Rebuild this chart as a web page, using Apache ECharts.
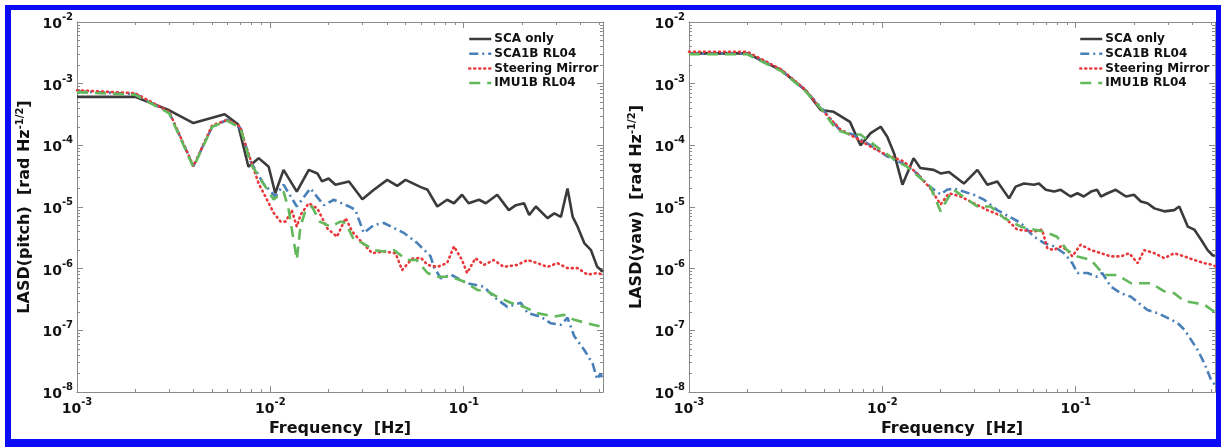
<!DOCTYPE html>
<html><head><meta charset="utf-8">
<script src="https://cdn.jsdelivr.net/npm/echarts@6/dist/echarts.min.js"></script>
<style>
html,body{margin:0;padding:0;background:#fff;}
#c{width:1221px;height:447px;}
#frame{position:absolute;left:5px;top:5px;right:0;bottom:0;border-style:solid;border-color:#0b0bf5;border-width:5px 5px 8px 6px;pointer-events:none;}
</style>
</head><body><div id="c"></div><div id="frame"></div>
<script>
// ---------- tick labels / axes ----------
const xMajorTicks = [0.001, 0.01, 0.1];
const yMajorTicks = [1e-8, 1e-7, 1e-6, 1e-5, 1e-4, 1e-3, 1e-2];
const minorMultipliers = [2, 3, 4, 5, 6, 7, 8, 9];
const xRange = [0.001, 0.525];
const yRange = [1e-8, 1e-2];
const seriesNames = ['SCA only', 'SCA1B RL04', 'Steering Mirror', 'IMU1B RL04'];
const xTitle = 'Frequency  [Hz]';
const yTitlePitch = 'LASD(pitch)';
const yTitleYaw = 'LASD(yaw)';

// ---------- pitch panel data [frequency Hz, LASD rad/sqrt(Hz)] ----------
const pitchScaOnly = [[0.001,6.1e-4],[0.002,6.1e-4],[0.003,3.7e-4],[0.004,2.3e-4],[0.005,2.8e-4],[0.0058,3.2e-4],[0.0068,2.2e-4],[0.0077,4.5e-5],[0.0087,6.2e-5],[0.0098,4.5e-5],[0.0106,1.67e-5],[0.0117,4.0e-5],[0.0137,1.78e-5],[0.0158,4.0e-5],[0.0175,3.5e-5],[0.0185,2.6e-5],[0.020,2.9e-5],[0.0217,2.3e-5],[0.0255,2.6e-5],[0.0299,1.34e-5],[0.0343,1.9e-5],[0.0402,2.75e-5],[0.0453,2.2e-5],[0.050,2.75e-5],[0.060,2.1e-5],[0.065,1.9e-5],[0.073,1.02e-5],[0.082,1.31e-5],[0.089,1.15e-5],[0.098,1.58e-5],[0.106,1.15e-5],[0.12,1.31e-5],[0.13,1.15e-5],[0.149,1.58e-5],[0.171,8.9e-6],[0.186,1.07e-5],[0.205,1.15e-5],[0.218,7.4e-6],[0.236,1.02e-5],[0.271,6.6e-6],[0.294,7.9e-6],[0.318,6.9e-6],[0.344,2.0e-5],[0.366,6.9e-6],[0.388,4.8e-6],[0.42,2.6e-6],[0.455,2.0e-6],[0.49,1.07e-6],[0.525,8.9e-7]];
const pitchSca1b = [[0.001,7.5e-4],[0.002,6.8e-4],[0.003,3.4e-4],[0.004,4.6e-5],[0.005,2.0e-4],[0.006,2.6e-4],[0.007,1.9e-4],[0.0079,5.5e-5],[0.0092,2.4e-5],[0.0106,1.48e-5],[0.0117,2.3e-5],[0.0137,1.02e-5],[0.0161,2.0e-5],[0.0189,1.07e-5],[0.0213,1.31e-5],[0.0255,1.02e-5],[0.0275,9e-6],[0.0304,3.8e-6],[0.0343,5.1e-6],[0.0386,5.5e-6],[0.049,3.8e-6],[0.0575,2.6e-6],[0.0674,1.58e-6],[0.070,1.07e-6],[0.076,7.0e-7],[0.0857,8e-7],[0.104,5.8e-7],[0.127,5.1e-7],[0.143,3.5e-7],[0.168,2.4e-7],[0.197,2.8e-7],[0.214,1.9e-7],[0.25,1.67e-7],[0.282,1.3e-7],[0.318,1.23e-7],[0.344,1.6e-7],[0.373,8e-8],[0.42,4.8e-8],[0.464,2.9e-8],[0.49,1.6e-8],[0.51,2e-8],[0.525,1.5e-8]];
const pitchMirror = [[0.001,7.8e-4],[0.002,7.0e-4],[0.003,3.5e-4],[0.004,4.6e-5],[0.005,2.1e-4],[0.006,2.6e-4],[0.007,2.0e-4],[0.0074,1.07e-4],[0.0087,2.4e-5],[0.0096,1.32e-5],[0.0104,8e-6],[0.0113,5.8e-6],[0.012,5.8e-6],[0.0129,8.9e-6],[0.0137,4.8e-6],[0.0143,7.4e-6],[0.0158,1.15e-5],[0.0175,9.5e-6],[0.0197,4.5e-6],[0.0221,3.3e-6],[0.0245,6.6e-6],[0.0265,4.0e-6],[0.030,2.6e-6],[0.0336,1.78e-6],[0.0386,1.9e-6],[0.0444,1.78e-6],[0.048,9.5e-7],[0.054,1.45e-6],[0.060,1.5e-6],[0.065,1.15e-6],[0.073,1.07e-6],[0.082,1.23e-6],[0.089,2.3e-6],[0.098,1.38e-6],[0.104,8.5e-7],[0.115,1.48e-6],[0.127,1.15e-6],[0.143,1.38e-6],[0.161,1.07e-6],[0.189,1.15e-6],[0.214,1.38e-6],[0.24,1.23e-6],[0.271,1.07e-6],[0.305,1.23e-6],[0.344,1.02e-6],[0.388,1.02e-6],[0.437,8e-7],[0.49,8.5e-7],[0.525,8e-7]];
const pitchImu1b = [[0.001,7.3e-4],[0.002,6.6e-4],[0.003,3.3e-4],[0.004,4.4e-5],[0.005,2.0e-4],[0.006,2.5e-4],[0.007,1.9e-4],[0.0079,5.1e-5],[0.0092,2.4e-5],[0.0104,1.32e-5],[0.0117,1.78e-5],[0.0124,9.5e-6],[0.0137,1.4e-6],[0.0143,4.8e-6],[0.0152,8.9e-6],[0.0164,1.02e-5],[0.018,5.8e-6],[0.0205,4.8e-6],[0.023,5.8e-6],[0.0245,5.5e-6],[0.027,2.95e-6],[0.030,2.6e-6],[0.0343,2.0e-6],[0.0386,1.9e-6],[0.0435,2.0e-6],[0.051,1.38e-6],[0.057,1.38e-6],[0.065,8.5e-7],[0.073,7.4e-7],[0.0857,7.4e-7],[0.1,6.2e-7],[0.118,4.5e-7],[0.133,4.3e-7],[0.149,3.5e-7],[0.175,2.8e-7],[0.205,2.4e-7],[0.24,1.9e-7],[0.294,1.67e-7],[0.33,1.78e-7],[0.373,1.48e-7],[0.437,1.3e-7],[0.51,1.15e-7],[0.525,1.05e-7]];

// ---------- yaw panel data ----------
const yawScaOnly = [[0.001,3.1e-3],[0.002,3.1e-3],[0.003,1.65e-3],[0.004,7.8e-4],[0.0048,3.75e-4],[0.0056,3.5e-4],[0.0068,2.4e-4],[0.0077,1.0e-4],[0.0087,1.58e-4],[0.0098,2.0e-4],[0.0106,1.38e-4],[0.0115,7.4e-5],[0.0127,2.3e-5],[0.0145,6.2e-5],[0.0157,4.3e-5],[0.0184,4.0e-5],[0.020,3.5e-5],[0.0221,3.7e-5],[0.0264,2.4e-5],[0.031,4.0e-5],[0.0349,2.3e-5],[0.0393,2.6e-5],[0.0452,1.38e-5],[0.0489,2.14e-5],[0.054,2.4e-5],[0.0608,2.3e-5],[0.0645,2.4e-5],[0.07,1.9e-5],[0.0773,1.78e-5],[0.0836,1.9e-5],[0.094,1.48e-5],[0.102,1.67e-5],[0.110,1.48e-5],[0.12,1.78e-5],[0.129,1.9e-5],[0.135,1.48e-5],[0.146,1.67e-5],[0.161,1.9e-5],[0.182,1.48e-5],[0.2,1.58e-5],[0.217,1.23e-5],[0.235,1.15e-5],[0.255,9.5e-6],[0.287,8.5e-6],[0.323,8.9e-6],[0.343,1.02e-5],[0.38,4.8e-6],[0.41,4.3e-6],[0.445,2.95e-6],[0.481,2.0e-6],[0.51,1.65e-6],[0.525,1.6e-6]];
const yawSca1b = [[0.001,3.1e-3],[0.002,3.1e-3],[0.003,1.65e-3],[0.004,7.8e-4],[0.005,3.6e-4],[0.006,1.8e-4],[0.007,1.5e-4],[0.0087,1.0e-4],[0.0106,6.6e-5],[0.0129,5.0e-5],[0.0151,3.5e-5],[0.0177,2.1e-5],[0.02,1.6e-5],[0.0216,1.9e-5],[0.0234,2.0e-5],[0.0297,1.58e-5],[0.0335,1.32e-5],[0.0393,8.9e-6],[0.052,5.5e-6],[0.0608,3.3e-6],[0.0686,2.6e-6],[0.077,2.3e-6],[0.087,1.78e-6],[0.096,1.23e-6],[0.102,8.5e-7],[0.115,8.5e-7],[0.129,7.4e-7],[0.137,8.5e-7],[0.152,5.1e-7],[0.171,4.0e-7],[0.193,3.5e-7],[0.217,2.6e-7],[0.235,2.14e-7],[0.265,1.9e-7],[0.3,1.58e-7],[0.337,1.3e-7],[0.365,1.02e-7],[0.395,7e-8],[0.427,4.8e-8],[0.463,2.9e-8],[0.5,1.6e-8],[0.525,1.3e-8]];
const yawMirror = [[0.001,3.3e-3],[0.002,3.3e-3],[0.003,1.7e-3],[0.004,8.0e-4],[0.0048,3.9e-4],[0.0061,1.78e-4],[0.0071,1.38e-4],[0.0087,9.5e-5],[0.0106,6.9e-5],[0.0129,5.5e-5],[0.0151,3.5e-5],[0.0177,2.0e-5],[0.02,1.1e-5],[0.0221,1.67e-5],[0.0254,1.48e-5],[0.0297,1.15e-5],[0.0349,8.9e-6],[0.0426,6.9e-6],[0.0498,4.3e-6],[0.0608,4.0e-6],[0.067,4.3e-6],[0.0713,2.14e-6],[0.077,2.0e-6],[0.0836,2.3e-6],[0.0906,2.0e-6],[0.096,1.58e-6],[0.106,2.45e-6],[0.12,2.0e-6],[0.135,1.78e-6],[0.152,1.58e-6],[0.171,1.58e-6],[0.189,1.78e-6],[0.209,1.23e-6],[0.226,2.0e-6],[0.255,1.78e-6],[0.287,1.48e-6],[0.323,1.78e-6],[0.365,1.58e-6],[0.41,1.38e-6],[0.463,1.23e-6],[0.51,1.15e-6],[0.525,1.1e-6]];
const yawImu1b = [[0.001,3.0e-3],[0.002,3.0e-3],[0.003,1.6e-3],[0.004,7.6e-4],[0.0048,4.0e-4],[0.0058,1.78e-4],[0.0068,1.5e-4],[0.0077,1.5e-4],[0.0098,8.5e-5],[0.0119,5.5e-5],[0.0134,4.5e-5],[0.0157,2.95e-5],[0.0177,2.14e-5],[0.02,8.5e-6],[0.0216,1.32e-5],[0.0234,1.9e-5],[0.0275,1.32e-5],[0.031,1.02e-5],[0.0363,1.02e-5],[0.0426,6.6e-6],[0.052,4.8e-6],[0.0608,4.3e-6],[0.0686,4.0e-6],[0.08,3.3e-6],[0.09,2.0e-6],[0.102,1.58e-6],[0.12,1.38e-6],[0.14,7.9e-7],[0.164,7.9e-7],[0.193,5.8e-7],[0.245,5.8e-7],[0.287,4.3e-7],[0.323,4.0e-7],[0.365,2.95e-7],[0.41,2.8e-7],[0.463,2.6e-7],[0.51,2.1e-7],[0.525,2.0e-7]];

// ---------- build ----------
const FONT = 'DejaVu Sans';
const AXC = '#8a8a8a';
function minorOf(majors) {
  const out = [];
  for (let i = 0; i < majors.length; i++) for (const m of minorMultipliers) out.push(majors[i] * m);
  return out;
}
const xMinor = minorOf(xMajorTicks).filter(v => v < xRange[1]);
const yMinor = minorOf(yMajorTicks.slice(0, -1));
const rich = {
  b: {fontFamily: FONT, fontWeight: 'bold', fontSize: 14, color: '#111', lineHeight: 19, verticalAlign: 'bottom'},
  s: {fontFamily: FONT, fontWeight: 'bold', fontSize: 10, color: '#111', lineHeight: 19, verticalAlign: 'top'}
};
const powLabel = v => '{b|10}{s|' + Math.round(Math.log10(v)) + '}';

function axisSet(dim, g, range, majors, minors, name, nameGap) {
  const isX = dim === 'x';
  const pos = isX ? ['bottom', 'top'] : ['left', 'right'];
  const base = {gridIndex: g, type: 'log', logBase: 10, min: range[0], max: range[1], splitLine: {show: false}, minorTick: {show: false}};
  const list = [];
  list.push(Object.assign({}, base, {
    position: pos[0],
    axisLine: {show: true, onZero: false, lineStyle: {color: AXC, width: 1}},
    axisTick: {show: true, inside: true, length: 6, customValues: majors, lineStyle: {color: AXC}},
    axisLabel: {show: true, customValues: majors, formatter: powLabel, rich: rich, margin: isX ? 5 : 4, hideOverlap: false},
    name: name, nameLocation: 'middle', nameGap: nameGap,
    nameTextStyle: {fontFamily: FONT, fontWeight: 'bold', fontSize: 16, color: '#111',
      rich: {t: {fontFamily: FONT, fontWeight: 'bold', fontSize: 16, color: '#111'},
             s: {fontFamily: FONT, fontWeight: 'bold', fontSize: 10, color: '#111', verticalAlign: 'top', lineHeight: 20}}}
  }));
  list.push(Object.assign({}, base, {position: pos[0], axisLine: {show: false},
    axisTick: {show: true, inside: true, length: 3, customValues: minors, lineStyle: {color: AXC}}, axisLabel: {show: false}}));
  list.push(Object.assign({}, base, {position: pos[1], axisLine: {show: true, onZero: false, lineStyle: {color: AXC, width: 1}},
    axisTick: {show: true, inside: true, length: 6, customValues: majors, lineStyle: {color: AXC}}, axisLabel: {show: false}}));
  list.push(Object.assign({}, base, {position: pos[1], axisLine: {show: false},
    axisTick: {show: true, inside: true, length: 3, customValues: minors, lineStyle: {color: AXC}}, axisLabel: {show: false}}));
  return list;
}

const styles = [
  {color: '#3b3b3b', width: 2.6, type: 'solid'},
  {color: '#4a80b8', width: 2.6, type: [9, 4, 2, 4]},
  {color: '#e8383c', width: 2.6, type: [1, 4], cap: 'round'},
  {color: '#62b85a', width: 2.6, type: [11, 7]}
];
const panels = [
  {g: 0, data: [pitchScaOnly, pitchSca1b, pitchMirror, pitchImu1b]},
  {g: 1, data: [yawScaOnly, yawSca1b, yawMirror, yawImu1b]}
];
const series = [];
panels.forEach(p => {
  p.data.forEach((d, i) => {
    series.push({type: 'line', name: seriesNames[i], data: d, xAxisIndex: p.g * 4, yAxisIndex: p.g * 4,
      symbol: 'none', showSymbol: false, smooth: false, animation: false,
      lineStyle: styles[i], itemStyle: {color: styles[i].color}, emphasis: {disabled: true}});
  });
});

const xAxes = [].concat(axisSet('x', 0, xRange, xMajorTicks, xMinor, xTitle, 28), axisSet('x', 1, xRange, xMajorTicks, xMinor, xTitle, 28));
const yAxes = [].concat(
  axisSet('y', 0, yRange, yMajorTicks, yMinor, '{t|' + yTitlePitch + '  [rad Hz}{s|-1/2}{t|]}', 42),
  axisSet('y', 1, yRange, yMajorTicks, yMinor, '{t|' + yTitleYaw + '  [rad Hz}{s|-1/2}{t|]}', 42));

function legendAt(left) {
  return {orient: 'vertical', left: left, top: 28, itemWidth: 22, itemHeight: 12, itemGap: 2.7,
    data: seriesNames, selectedMode: false,
    itemStyle: {color: 'rgba(0,0,0,0)', borderWidth: 0, opacity: 0},
    lineStyle: {width: 2.5},
    textStyle: {fontFamily: FONT, fontWeight: 'bold', fontSize: 12, color: '#111', lineHeight: 12, padding: [0, 0, 0, -2]}};
}

const chart = echarts.init(document.getElementById('c'), null, {renderer: 'canvas'});
chart.setOption({
  animation: false,
  backgroundColor: '#fff',
  grid: [
    {left: 77, top: 22, width: 526, height: 370, containLabel: false},
    {left: 689, top: 22, width: 526, height: 370, containLabel: false}
  ],
  xAxis: xAxes,
  yAxis: yAxes,
  legend: [legendAt(463), legendAt(1074)],
  series: series
});
</script></body></html>
